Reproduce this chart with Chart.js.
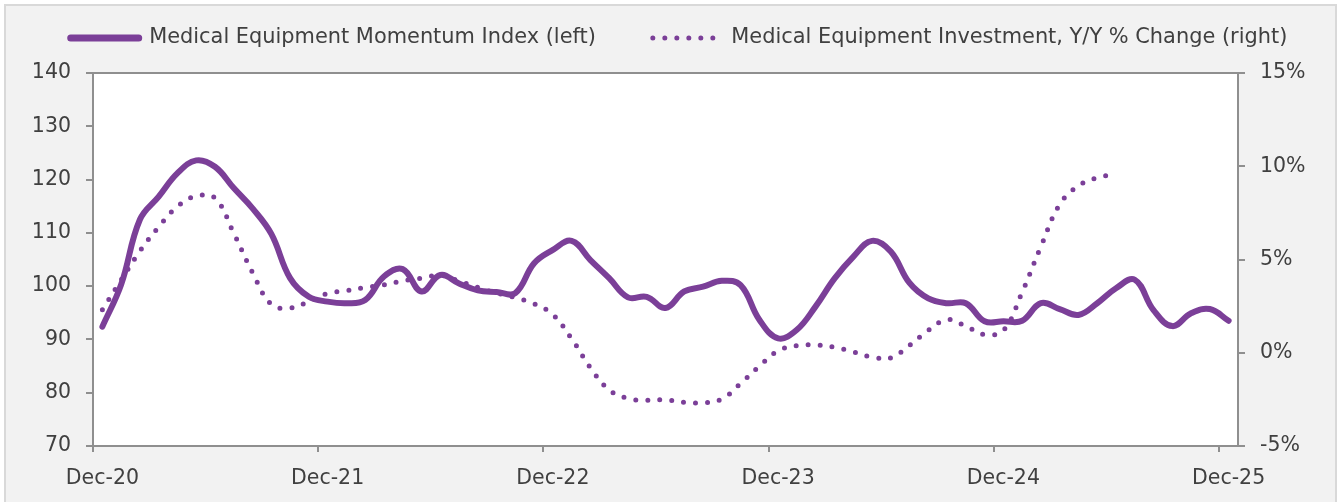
<!DOCTYPE html>
<html>
<head>
<meta charset="utf-8">
<script src="https://cdn.jsdelivr.net/npm/chart.js@4"></script>
<style>
  html, body { margin: 0; padding: 0; background: #ffffff; }
  #frame {
    position: absolute; left: 4px; top: 4px; width: 1329px; height: 520px;
    background: #f2f2f2; border: 2px solid #d9d9d9;
  }
  #chart { position: absolute; left: 0; top: 0; }
</style>
</head>
<body>
<div id="frame"></div>
<canvas id="chart" width="1338" height="502"></canvas>
<script>
// ── Data ───────────────────────────────────────────────────────────────────
const months = [
  "Dec-20",
  "Jan-21", "Feb-21", "Mar-21", "Apr-21", "May-21", "Jun-21", "Jul-21", "Aug-21", "Sep-21", "Oct-21", "Nov-21", "Dec-21",
  "Jan-22", "Feb-22", "Mar-22", "Apr-22", "May-22", "Jun-22", "Jul-22", "Aug-22", "Sep-22", "Oct-22", "Nov-22", "Dec-22",
  "Jan-23", "Feb-23", "Mar-23", "Apr-23", "May-23", "Jun-23", "Jul-23", "Aug-23", "Sep-23", "Oct-23", "Nov-23", "Dec-23",
  "Jan-24", "Feb-24", "Mar-24", "Apr-24", "May-24", "Jun-24", "Jul-24", "Aug-24", "Sep-24", "Oct-24", "Nov-24", "Dec-24",
  "Jan-25", "Feb-25", "Mar-25", "Apr-25", "May-25", "Jun-25", "Jul-25", "Aug-25", "Sep-25", "Oct-25", "Nov-25", "Dec-25"
]

// Momentum index, left axis
const momentumIndex = [
  92.4,
  100.3, 112.5, 116.8, 121.2, 123.6, 122.4, 118.4, 114.6, 109.8, 101.5, 98.0, 97.1,
  96.8, 97.4, 101.8, 103.2, 99.0, 102.1, 100.5, 99.2, 98.9, 98.7, 104.3, 106.8,
  108.5, 104.9, 101.5, 97.9, 98.0, 95.9, 99.0, 99.9, 101.0, 100.2, 93.7, 90.2,
  91.8, 96.2, 101.4, 105.5, 108.5, 106.5, 100.6, 97.7, 96.8, 96.8, 93.4, 93.4,
  93.5, 96.8, 95.7, 94.6, 96.8, 99.6, 101.2, 95.5, 92.5, 94.9, 95.7, 93.5
]

// Investment Y/Y % change, right axis (ends Jun-25)
const investmentYoY = [
  2.3,
  3.9, 5.45, 6.75, 7.85, 8.4, 8.3, 6.4, 4.3, 2.6, 2.4, 2.75, 3.18,
  3.33, 3.5, 3.64, 3.85, 4.0, 4.15, 3.85, 3.5, 3.2, 2.95, 2.63, 2.05,
  0.75, -0.8, -2.0, -2.45, -2.55, -2.52, -2.66, -2.68, -2.48, -1.65, -0.72, 0.1,
  0.38, 0.42, 0.3, 0.04, -0.23, -0.28, 0.4, 1.2, 1.78, 1.43, 0.98, 1.2,
  3.25, 5.7, 7.95, 8.95, 9.38, 9.6
]

const seriesNames = [
  "Medical Equipment Momentum Index (left)",
  "Medical Equipment Investment, Y/Y % Change (right)"
]

// ── Styles ─────────────────────────────────────────────────────────────────
const PURPLE = "#7b3f98"
const AXIS   = "#8f8f8f"
const TEXT   = "#404040"
const FONT   = { family: "'DejaVu Sans', Verdana, sans-serif", size: 20.5 }
const LEGEND_FONT = { family: "'DejaVu Sans', Verdana, sans-serif", size: 20.9 }

const plotBackground = {
  id: "plotBackground",
  beforeDraw(chart) {
    const { ctx, chartArea: a } = chart
    ctx.save()
    ctx.fillStyle = "#ffffff"
    ctx.fillRect(a.left, a.top, a.right - a.left, a.bottom - a.top)
    ctx.restore()
  }
}

new Chart(document.getElementById("chart"), {
  type: "line",
  data: {
    labels: months,
    datasets: [
      {
        label: seriesNames[0],
        data: momentumIndex,
        yAxisID: "y",
        borderColor: PURPLE,
        backgroundColor: PURPLE,
        borderWidth: 6,
        borderCapStyle: "round",
        borderJoinStyle: "round",
        pointRadius: 0,
        tension: 0.4
      },
      {
        label: seriesNames[1],
        data: investmentYoY,
        yAxisID: "y1",
        borderColor: PURPLE,
        backgroundColor: PURPLE,
        borderWidth: 5,
        borderDash: [0, 12],
        borderCapStyle: "round",
        pointRadius: 0,
        tension: 0.4
      }
    ]
  },
  options: {
    responsive: false,
    animation: false,
    // negative sides widen the legend row so both items stay on one line
    layout: { padding: { top: -29.45, left: -10, right: -30, bottom: 0 } },
    plugins: {
      legend: {
        position: "top",
        labels: {
          usePointStyle: true,
          pointStyle: "line",
          pointStyleWidth: 68,
          padding: 57,
          color: TEXT,
          font: LEGEND_FONT,
          generateLabels: chart => chart.data.datasets.map((ds, i) => ({
            text: ds.label,
            datasetIndex: i,
            fillStyle: ds.borderColor,
            strokeStyle: ds.borderColor,
            fontColor: TEXT,
            lineWidth: ds.borderDash ? ds.borderWidth : ds.borderWidth + 1,
            lineDash: ds.borderDash || [],
            lineCap: ds.borderCapStyle,
            pointStyle: "line",
            hidden: false
          }))
        }
      },
      // empty spacer between legend and plot
      title: {
        display: true,
        text: "",
        weight: 500,
        font: { size: 1, lineHeight: 1 },
        padding: { top: 0, bottom: 13.55 }
      },
      tooltip: { enabled: false }
    },
    scales: {
      x: {
        type: "category",
        offset: true,
        afterFit: s => { s.height = 56 },
        border: { display: true, color: AXIS, width: 2 },
        grid: {
          offset: true,
          drawOnChartArea: false,
          drawTicks: true,
          tickLength: 6,
          lineWidth: 2,
          color: c => (c.index % 12 === 0 ? AXIS : "transparent"),
          tickColor: c => (c.index % 12 === 0 ? AXIS : "transparent")
        },
        ticks: {
          autoSkip: false,
          maxRotation: 0,
          minRotation: 0,
          padding: 14,
          color: TEXT,
          font: FONT,
          callback: (v, i) => (i % 12 === 0 ? months[i] : "")
        }
      },
      y: {
        position: "left",
        min: 70,
        max: 140,
        afterFit: s => { s.width = 103 },
        border: { display: true, color: AXIS, width: 2 },
        grid: {
          drawOnChartArea: true,
          tickLength: 7,
          lineWidth: 2,
          color: c => (c.tick && c.tick.value === 140 ? AXIS : "transparent"),
          tickColor: AXIS
        },
        ticks: { stepSize: 10, padding: 15, color: TEXT, font: FONT }
      },
      y1: {
        position: "right",
        min: -5,
        max: 15,
        afterFit: s => { s.width = 130 },
        border: { display: true, color: AXIS, width: 2 },
        grid: {
          drawOnChartArea: false,
          tickLength: 7,
          lineWidth: 2,
          color: AXIS,
          tickColor: AXIS
        },
        ticks: {
          stepSize: 5,
          padding: 15,
          color: TEXT,
          font: FONT,
          callback: v => v + "%"
        }
      }
    }
  },
  plugins: [plotBackground]
})
</script>
</body>
</html>
